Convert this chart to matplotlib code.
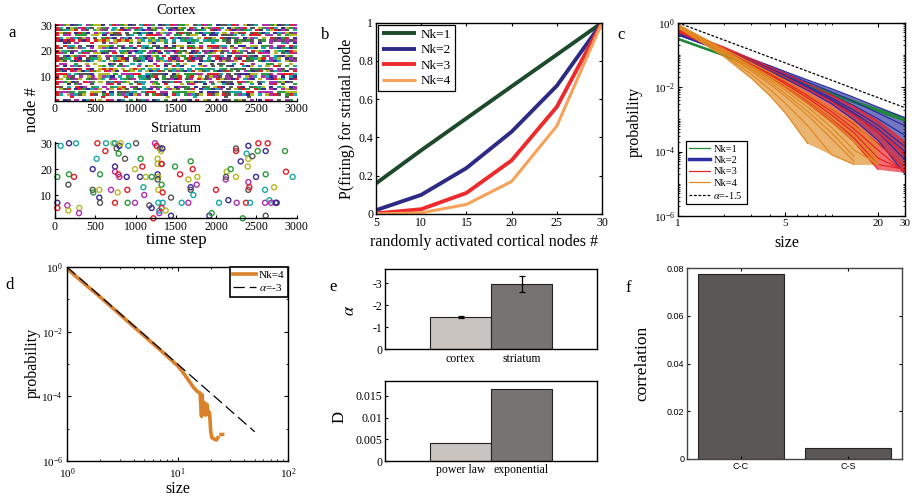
import numpy as np
import matplotlib
matplotlib.use('Agg')
import matplotlib.pyplot as plt
from matplotlib.ticker import NullFormatter, LogLocator, FixedLocator, FixedFormatter

plt.rcParams['font.family'] = ['Liberation Serif', 'DejaVu Serif']
plt.rcParams['mathtext.fontset'] = 'stix'
plt.rcParams['axes.unicode_minus'] = False
plt.rcParams['xtick.direction'] = 'in'
plt.rcParams['ytick.direction'] = 'in'
plt.rcParams['axes.linewidth'] = 1.0

# ---------------- data ----------------
# panel a: cortex raster, occupancy per node (node 1 first), '#' = spikes in that time bin
cortex_rows = [
    "#.##.#.###.#.##.##.#.###.##.#.#.###.#.##.#.##.###.#.#.##.#.##.",
    "....#.......#.....#..........#......#.......#.....#.........#..",
    "##.#####.##.###.######.#.####.##.#####.###.##.#####.#.####.###",
    "#####.##.####.#.#####.####.##.######.#.###.#####.##.####.#####",
    ".###.#######.##.###.#####.#.####.###.######.#.####.###.##.####",
    "##.#.###.##.#.####.##.#.###.#.####.#.##.###.#.##.####.#.##.##",
    "#..#.##..#...##.#..#.##..##.#...#.##..#.#..###.#..#.#..##.#..#",
    "######.###.#.######.###.##.#####.#####.#.####.####.##.######.",
    "##.####.#####.##.####.###.#.#####.##.####.######.###.#.#####.##",
    "#.###.#.##.####.#.##.#####.#.###.##.#.####.##.#.###.####.#.##",
    "####.#####.###.#.#####.######.##.#####.####.#.######.###.#####",
    "###.########.####.###.#.#####.#######.###.#####.#.#####.######.#",
    "#######.##.#####.#.####.###.#####.#.#####.##.####.######.##.##",
    "#.#.###.#..##.#.###..#.##.#.#.###..#.##.#.#.##..###.#.#.##.#.#",
    ".##..#..#.#...##.#..#.#...#..##.#.#...#..#.##..#.#..#...##.#..#.",
    "###.######.##.#####.###.#.#######.##.####.#####.###.######.###",
    "####.##.####.#.####.#####.##.###.#####.#.####.##.#####.###.###",
    "#.######.###.#####.##.#####.#.####.####.####.#.######.##.#####.",
    "###.#.###.####.#.###.##.####.#.##.####.###.#.####.##.###.#.####",
    "######.####.####.#######.###.######.##.#######.####.#####.######",
    "##.#####.#.#####.####.###.#####.#.####.#####.##.####.#.#######",
    "#.###.#.##.####.##.#.###.##.#.###.##.#.#####.#.##.##.###.##.##",
    "..##.#...#..#.##...#.#..##..#.#...##.#..#...#.##..#.#..#..##.#",
    "#####.###.####.#####.##.#####.#.#####.####.##.#####.##.#######",
    "##.######.#.####.###.#####.##.######.#.###.#####.####.#.#####.#",
    "#.##.###.##.#.###.##.#.####.#.##.###.#.##.####.#.###.##.#.###",
    "####.####.#######.#.#####.####.####.######.#.####.#####.######",
    "######.##.####.#####.######.#.####.#####.###.#######.##.######.#",
    "##.#######.###.#.######.####.#####.##.######.#####.#.#####.####",
    "#######.#####.#######.####.########.#####.######.####.#########",
]
# panel a: striatum spikes
striatum_t = [70, 174, 261, 29, 29, 29, 174, 166, 236, 153,
              166, 302, 298, 468, 468, 476, 526, 517, 559, 550,
              550, 559, 633, 625, 695, 724, 745, 745, 745, 745,
              778, 765, 799, 790, 786, 799, 815, 869, 890, 898,
              902, 910, 993, 993, 1006, 1055, 1063, 1084, 1097, 1108,
              1126, 1200, 1171, 1200, 1221, 1241, 1262, 1274, 1274, 1274,
              1283, 1274, 1283, 1283, 1295, 1295, 1303, 1316, 1332, 1324,
              1324, 1336, 1324, 1336, 1324, 1374, 1440, 1440, 1490, 1552,
              1572, 1655, 1655, 1684, 1684, 1684, 1709, 1717, 1759, 1767,
              1916, 1945, 1998, 2036, 2131, 2119, 2123, 2152, 2181, 2247,
              2247, 2247, 2255, 2305, 2330, 2371, 2379, 2400, 2400, 2392,
              2400, 2400, 2412, 2421, 2450, 2495, 2516, 2524, 2615, 2615,
              2607, 2607, 2615, 2640, 2661, 2681, 2719, 2739, 2752, 2867,
              2855, 2950]
striatum_node = [29, 30, 30, 17, 7, 5, 18, 14, 17, 6,
                 4, 5, 3, 20, 12, 11, 30, 24, 18, 12,
                 9, 7, 30, 27, 12, 30, 30, 21, 19, 7,
                 11, 28, 29, 26, 18, 17, 30, 24, 17, 12,
                 7, 29, 20, 7, 30, 17, 24, 21, 13, 10,
                 17, 17, 6, 5, 1, 30, 29, 24, 22, 18,
                 17, 16, 12, 7, 3, 4, 28, 27, 28, 22,
                 22, 11, 14, 7, 5, 4, 9, 2, 21, 18,
                 7, 16, 7, 23, 13, 12, 20, 10, 14, 17,
                 2, 3, 12, 7, 19, 16, 17, 8, 20, 28,
                 27, 17, 7, 23, 1, 7, 26, 29, 24, 21,
                 15, 12, 13, 7, 25, 17, 27, 30, 27, 18,
                 12, 7, 2, 30, 8, 7, 13, 7, 7, 19,
                 27, 17]
striatum_col = ("cbcgbrgkrm" "yymbkgrcgy" "bkcrmycbmr" "ykbgrmykbr" "gcymkbgrcm"
                "ygkbrmryyb" "ykycmckybk" "rrgcrykbgr" "cymgbkrcmy" "bgrcymkbgk"
                "rymbgrcbyy" "mkrckbgrbg" "cmkrcmybbr" "gc")

# panel b
b_x = [5, 10, 15, 20, 25, 30]
b_nk1 = [0.16, 0.333, 0.50, 0.667, 0.833, 1.0]
b_nk2 = [0.02, 0.10, 0.24, 0.43, 0.67, 1.0]
b_nk3 = [0.003, 0.025, 0.11, 0.28, 0.56, 1.0]
b_nk4 = [0.0, 0.006, 0.05, 0.17, 0.46, 1.0]
b_labels = ['Nk=1', 'Nk=2', 'Nk=3', 'Nk=4']

# panel c (log10 probability vs size)
nan = np.nan
c_size = [1, 2, 3, 4, 5, 7, 10, 14, 20, 30]
c_nk1 = [
    [-0.48, -0.99, -1.29, -1.50, -1.67, -1.92, -2.17, -2.42, -2.68, -2.95],
    [-0.50, -1.01, -1.31, -1.52, -1.69, -1.94, -2.20, -2.45, -2.71, -3.00],
    [-0.52, -1.03, -1.33, -1.55, -1.72, -1.97, -2.23, -2.49, -2.76, -3.06],
    [-0.51, -1.02, -1.32, -1.53, -1.70, -1.96, -2.21, -2.47, -2.73, -3.03],
    [-0.49, -1.00, -1.30, -1.51, -1.68, -1.93, -2.18, -2.44, -2.70, -2.98],
]
c_nk2 = [
    [-0.33, -0.82, -1.12, -1.34, -1.52, -1.78, -2.05, -2.32, -2.62, -2.95],
    [-0.34, -0.84, -1.15, -1.38, -1.57, -1.85, -2.15, -2.45, -2.80, -3.20],
    [-0.35, -0.85, -1.17, -1.41, -1.61, -1.91, -2.24, -2.58, -2.98, -3.50],
    [-0.36, -0.87, -1.20, -1.46, -1.67, -2.00, -2.38, -2.80, -3.30, -4.00],
    [-0.36, -0.86, -1.19, -1.44, -1.65, -1.97, -2.33, -2.72, -3.18, -3.85],
    [-0.37, -0.88, -1.21, -1.47, -1.69, -2.03, -2.42, -2.86, -3.40, -4.25],
    [-0.38, -0.90, -1.24, -1.51, -1.74, -2.10, -2.52, -3.02, -3.65, -4.70],
]
c_nk3 = [
    [-0.20, -0.76, -1.12, -1.38, -1.58, -1.90, -2.25, -2.62, -3.05, -3.70],
    [-0.22, -0.80, -1.18, -1.46, -1.69, -2.05, -2.45, -2.88, -3.40, -4.10],
    [-0.24, -0.84, -1.24, -1.54, -1.80, -2.20, -2.66, -3.15, -3.75, -4.50],
    [-0.25, -0.86, -1.27, -1.58, -1.85, -2.27, -2.76, -3.30, -3.95, -4.65],
    [-0.26, -0.88, -1.30, -1.62, -1.90, -2.34, -2.86, -3.42, -4.20, -4.60],
    [-0.27, -0.90, -1.33, -1.67, -1.96, -2.42, -2.97, -3.58, -4.40, -4.55],
    [-0.28, -0.92, -1.36, -1.71, -2.02, -2.50, -3.08, -3.70, -4.55, nan],
]
c_nk4 = [
    [-0.05, -0.82, -1.25, -1.55, -1.80, -2.20, -2.65, -3.10, -3.80, nan],
    [-0.08, -0.86, -1.33, -1.67, -1.95, -2.40, -2.95, -3.50, -4.25, nan],
    [-0.09, -0.88, -1.36, -1.72, -2.02, -2.52, -3.10, -3.70, -4.40, nan],
    [-0.10, -0.90, -1.40, -1.78, -2.10, -2.62, -3.25, -3.95, -4.40, nan],
    [-0.11, -0.92, -1.45, -1.85, -2.20, -2.75, -3.42, -4.15, nan, nan],
    [-0.12, -0.95, -1.50, -1.92, -2.28, -2.88, -3.60, -4.30, nan, nan],
    [-0.14, -1.00, -1.60, -2.08, -2.50, -3.20, -4.10, -4.40, nan, nan],
    [-0.15, -1.05, -1.72, -2.28, -2.80, -3.75, nan, nan, nan, nan],
]
c_ref_size = [1, 30]
c_ref_prob = [1.0, 2.3e-3]
c_labels = ['Nk=1', 'Nk=2', 'Nk=3', 'Nk=4', r'$\alpha$=-1.5']

# panel d
d_size = [1, 1.5, 2, 3, 4, 5, 6, 7, 8, 9, 10, 11, 12, 13, 14, 15, 16, 16.5, 16.7,
          17.2, 17.6, 18.0, 18.5, 19.0, 19.5, 20.0, 20.5, 21.5, 22.5, 23.2, nan, 24.8, 25.6]
d_logp = [-0.05, -0.57, -0.93, -1.46, -1.84, -2.13, -2.37, -2.57, -2.75, -2.91, -3.05,
          -3.22, -3.40, -3.57, -3.73, -3.84, -3.90, -4.62, -3.95, -4.55, -4.20, -4.58,
          -4.25, -4.55, -4.50, -5.10, -5.28, -5.32, -5.35, -5.28, nan, -5.18, -5.18]
d_ref_size = [1, 50]
d_ref_prob = [1.0, 8e-6]
d_labels = ['Nk=4', r'$\alpha$=-3']

# panel e
e_groups = ['cortex', 'striatum']
e_alpha = [-1.48, -2.97]
e_alpha_err = [0.04, 0.35]
e_D_groups = ['power law', 'exponential']
e_D = [0.0042, 0.0166]

# panel f
f_cats = ['C-C', 'C-S']
f_corr = [0.0776, 0.0045]

# ---------------- figure ----------------
W, H = 915, 499
fig = plt.figure(figsize=(W / 100, H / 100), dpi=100)


def ax_px(l, t, r, b):
    return fig.add_axes([l / W, 1 - b / H, (r - l) / W, (b - t) / H])


def ftext(x, y, s, **kw):
    fig.text(x / W, 1 - y / H, s, ha='center', va='center', **kw)


pal = {'r': '#e41e26', 'g': '#2a9a3a', 'b': '#3b2b96', 'c': '#1aa7a8',
       'm': '#b02fb0', 'y': '#b5b822', 'k': '#555555'}
pal_keys = 'rgbcmyk'

TL = 8.5

# ---- a: cortex
axa1 = ax_px(55, 24, 296.7, 100.7)
xs, ys, cs = [], [], []
for r, row in enumerate(cortex_rows):
    n = len(row)
    for j, ch in enumerate(row):
        if ch == '#':
            xs.append((j + 0.5) * 3000 / n)
            ys.append(r + 1)
            cs.append(pal[pal_keys[((r + 1) * 7 + j * 3 + (j * (r + 5)) % 11) % 7]])
rect_marker = [(-1, -0.5), (1, -0.5), (1, 0.5), (-1, 0.5), (-1, -0.5)]
axa1.scatter(xs, ys, c=cs, marker=rect_marker, s=9.0, linewidths=0)
axa1.set_xlim(0, 3000)
axa1.set_ylim(0.6, 30.4)
axa1.set_xticks(range(0, 3001, 500))
axa1.set_yticks([10, 20, 30])
axa1.tick_params(labelsize=TL, length=2.5, pad=2)
for sp in ['top', 'right']:
    axa1.spines[sp].set_visible(False)

axa2 = ax_px(55, 141.7, 296.7, 218.3)
axa2.scatter(striatum_t, striatum_node,
             facecolors='none',
             edgecolors=[pal[c] for c in striatum_col[:len(striatum_t)]],
             marker='o', s=13, linewidths=1.0, clip_on=False)
axa2.set_xlim(0, 3000)
axa2.set_ylim(1, 30.6)
axa2.set_xticks(range(0, 3001, 500))
axa2.set_yticks([10, 20, 30])
axa2.tick_params(labelsize=TL, length=2.5, pad=2)
for sp in ['top', 'right']:
    axa2.spines[sp].set_visible(False)

ftext(176, 11, 'Cortex', fontsize=10.5)
ftext(176, 128, 'Striatum', fontsize=10.5)
ftext(32, 110, 'node #', fontsize=12, rotation=90)
ftext(176, 240, 'time step', fontsize=12)
ftext(12, 33, 'a', fontsize=12)

# ---- b
axb = ax_px(376, 22.7, 602, 214)
b_cols = ['#1d4a2a', '#2d2a85', '#ee2a2d', '#f6a25a']
for vals, col, lab in zip([b_nk1, b_nk2, b_nk3, b_nk4], b_cols, b_labels):
    axb.plot(b_x, vals, color=col, lw=2.8 if lab != 'Nk=4' else 2.2, label=lab, solid_capstyle='butt')
axb.set_xlim(5, 30)
axb.set_ylim(0, 1)
axb.set_xticks(range(5, 31, 5))
axb.set_yticks([0, 0.2, 0.4, 0.6, 0.8, 1])
axb.set_yticklabels(['0', '0.2', '0.4', '0.6', '0.8', '1'])
axb.tick_params(labelsize=8.5, length=2.5, top=True, right=True, pad=2)
legb = axb.legend(loc='upper left', bbox_to_anchor=(0.0, 1.0), fontsize=9.5, frameon=True,
                  fancybox=False, edgecolor='black', framealpha=1, borderaxespad=0.15,
                  handlelength=2.6, labelspacing=0.25, handletextpad=0.3, borderpad=0.3)
legb.get_frame().set_linewidth(0.9)
ftext(347, 119, 'P(firing) for striatal node', fontsize=11.5, rotation=90)
ftext(484, 242, 'randomly activated cortical nodes #', fontsize=11.5)
ftext(325, 35, 'b', fontsize=12)

# ---- c
axc = ax_px(677.7, 22.7, 905, 216)
c_cols = ['#1f8a3a', '#2b2ea0', '#ea2228', '#e08a22']
handles = []
for group, col, lab in zip([c_nk1, c_nk2, c_nk3, c_nk4], c_cols, c_labels[:4]):
    arr = np.array(group)
    lo = np.nanmin(arr, axis=0)
    hi = np.nanmax(arr, axis=0)
    axc.fill_between(c_size, 10 ** lo, 10 ** hi, color=col, alpha=0.65, linewidth=0)
    for k, line in enumerate(group):
        h, = axc.plot(c_size, 10 ** np.array(line), color=col, lw=0.9,
                      label=lab if k == 0 else None)
        if k == 0:
            handles.append(h)
h, = axc.plot(c_ref_size, c_ref_prob, color='black', lw=0.9, ls=(0, (2.2, 1.4)), label=c_labels[4])
handles.append(h)
axc.set_xscale('log')
axc.set_yscale('log')
axc.set_xlim(1, 30)
axc.set_ylim(1e-6, 1)
axc.xaxis.set_major_locator(FixedLocator([1, 5, 20, 30]))
axc.xaxis.set_major_formatter(FixedFormatter(['1', '5', '20', '30']))
axc.xaxis.set_minor_locator(FixedLocator([2, 3, 4, 6, 7, 8, 9, 10]))
axc.xaxis.set_minor_formatter(NullFormatter())
axc.yaxis.set_major_locator(FixedLocator([1e-6, 1e-4, 1e-2, 1]))
axc.yaxis.set_minor_locator(LogLocator(base=10, subs=np.arange(1, 10), numticks=20))
axc.yaxis.set_minor_formatter(NullFormatter())
axc.tick_params(which='both', labelsize=8, top=True, right=True, pad=2)
axc.tick_params(which='major', length=3)
axc.tick_params(which='minor', length=1.5)
legc = axc.legend(handles=handles, loc='lower left', bbox_to_anchor=(0.035, 0.06), fontsize=7.5,
                  frameon=True, fancybox=False, edgecolor='black', framealpha=1, borderaxespad=0,
                  handlelength=2.0, labelspacing=0.2, handletextpad=0.3, borderpad=0.35)
legc.get_frame().set_linewidth(0.9)
legc.legend_handles[1].set_linewidth(2.5)
ftext(635, 122, 'probability', fontsize=11.5, rotation=90)
ftext(787, 243, 'size', fontsize=11.5)
ftext(621, 35, 'c', fontsize=12)

# ---- d
axd = ax_px(67, 267, 288, 461)
axd.plot(d_size, 10 ** np.array(d_logp), color='#d9822b', lw=2.6, label=d_labels[0])
axd.plot(d_ref_size, d_ref_prob, color='black', lw=0.9, ls=(0, (9, 4)), label=d_labels[1])
axd.set_xscale('log')
axd.set_yscale('log')
axd.set_xlim(1, 100)
axd.set_ylim(1e-6, 1)
axd.yaxis.set_major_locator(FixedLocator([1e-6, 1e-4, 1e-2, 1]))
axd.yaxis.set_minor_locator(FixedLocator([1e-5, 1e-3, 1e-1]))
axd.yaxis.set_minor_formatter(NullFormatter())
axd.xaxis.set_minor_locator(LogLocator(base=10, subs=np.arange(2, 10), numticks=10))
axd.xaxis.set_minor_formatter(NullFormatter())
axd.tick_params(which='both', labelsize=8, top=True, right=True)
axd.tick_params(axis='x', which='both', pad=4)
axd.tick_params(axis='y', which='both', pad=3)
axd.tick_params(which='major', length=3)
axd.tick_params(which='minor', length=1.5)
legd = axd.legend(loc='upper right', fontsize=8, frameon=True, fancybox=False, edgecolor='black',
                  framealpha=1, borderaxespad=0, handlelength=2.0, labelspacing=0.2,
                  handletextpad=0.3, borderpad=0.3)
legd.get_frame().set_linewidth(1.2)
ftext(33, 363, 'probability', fontsize=11.5, rotation=90)
ftext(178, 489, 'size', fontsize=11.5)
ftext(10, 285, 'd', fontsize=12)

# ---- e
bw = 0.286
e_pos = [1 - bw / 2, 1 + bw / 2]
e_cols = ['#c9c4c0', '#777370']
axe1 = ax_px(385, 269, 597.3, 349.3)
axe1.bar(e_pos, e_alpha, width=bw, color=e_cols, edgecolor='#222222', linewidth=0.8)
axe1.errorbar(e_pos, e_alpha, yerr=e_alpha_err, fmt='none', ecolor='black', elinewidth=0.9,
              capsize=2.5, capthick=0.9)
axe1.set_xlim(0.5, 1.5)
axe1.set_ylim(0, -3.65)
axe1.set_yticks([0, -1, -2, -3])
axe1.set_yticklabels(['0', '-1', '-2', '-3'])
axe1.set_xticks(e_pos)
axe1.set_xticklabels(e_groups)
axe1.tick_params(axis='x', length=0, labelsize=8.5, pad=3)
axe1.tick_params(axis='y', length=2, labelsize=8.5, pad=2)

axe2 = ax_px(385, 380.7, 597.3, 461)
axe2.bar(e_pos, e_D, width=bw, color=e_cols, edgecolor='#222222', linewidth=0.8)
axe2.set_xlim(0.5, 1.5)
axe2.set_ylim(0, 0.0185)
axe2.set_yticks([0, 0.005, 0.01, 0.015])
axe2.set_yticklabels(['0', '0.005', '0.01', '0.015'])
axe2.set_xticks(e_pos)
axe2.set_xticklabels(e_D_groups)
axe2.tick_params(axis='x', length=0, labelsize=8.5, pad=2)
axe2.tick_params(axis='y', length=2, labelsize=8.5, pad=2)
ftext(350, 310, r'$\alpha$', fontsize=12, rotation=90)
ftext(340, 417, 'D', fontsize=12, rotation=90)
ftext(333, 287, 'e', fontsize=12)

# ---- f
axf = ax_px(687.3, 268.3, 901.7, 459)
f_x = np.arange(1, len(f_cats) + 1)
axf.bar(f_x, f_corr, width=0.8, color='#5b5754', edgecolor='#222222', linewidth=0.8)
axf.set_xlim(0.5, 2.5)
axf.set_ylim(0, 0.08)
axf.set_xticks(f_x)
axf.set_xticklabels(f_cats)
axf.set_yticks([0, 0.02, 0.04, 0.06, 0.08])
axf.set_yticklabels(['0', '0.02', '0.04', '0.06', '0.08'])
for lab in axf.get_xticklabels() + axf.get_yticklabels():
    lab.set_family(['Liberation Sans Narrow', 'Liberation Sans', 'DejaVu Sans'])
axf.tick_params(labelsize=6.5, length=2, top=True, right=True, pad=2)
for sp in axf.spines.values():
    sp.set_color('#444444')
ftext(642, 363, 'correlation', fontsize=12.5, rotation=90)
ftext(628, 288, 'f', fontsize=12)

fig.savefig('out.png', dpi=100)
